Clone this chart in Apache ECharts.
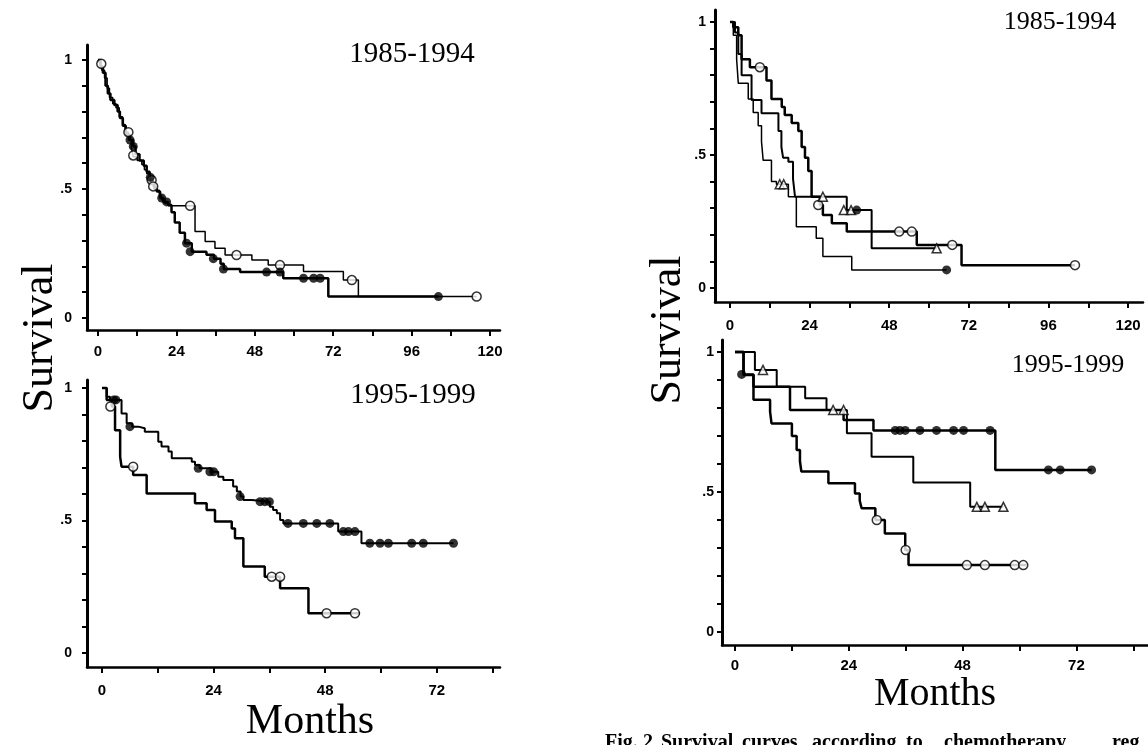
<!DOCTYPE html>
<html>
<head>
<meta charset="utf-8">
<title>Survival by period</title>
<script src="https://cdn.jsdelivr.net/npm/echarts@6/dist/echarts.min.js"></script>
<style>
  html, body { margin: 0; padding: 0; background: #fff; }
  #chart { width: 1148px; height: 745px; }
</style>
</head>
<body>
<div id="chart"></div>
<script>
// axis ticks / labels
const monthTicks120 = [0, 12, 24, 36, 48, 60, 72, 84, 96, 108, 120];
const monthLabels120 = [0, 24, 48, 72, 96, 120];
const monthTicks84 = [0, 12, 24, 36, 48, 60, 72, 84];
const monthLabels72 = [0, 24, 48, 72];
const survTicks = [0, 0.1, 0.2, 0.3, 0.4, 0.5, 0.6, 0.7, 0.8, 0.9, 1];
const survLabels = [0, 0.5, 1];

// left, 1985-1994 : [month, survival]
const aOpenSteps = [[0,1],[0.6,0.985],[1.2,0.96],[2,0.93],[2.8,0.89],[3.5,0.855],[4.5,0.83],[5.5,0.815],[6.5,0.78],[7.5,0.75],[8.3,0.72],[9.3,0.69],[10.2,0.66],[10.8,0.625],[12,0.61],[13.4,0.595],[14.2,0.575],[14.9,0.56],[16,0.535],[16.9,0.51],[17.8,0.495],[18.8,0.475],[19.5,0.457],[20.5,0.445],[21.5,0.435],[29.7,0.335],[32.8,0.296],[35.8,0.27],[38.9,0.244],[47.1,0.225],[52.1,0.205],[62.9,0.18],[75.1,0.147],[79.7,0.083],[115.9,0.083]];
const aOpenCensor = [[1,0.985],[9.3,0.72],[10.8,0.63],[16.4,0.535],[16.9,0.51],[28.2,0.435],[42.4,0.244],[55.7,0.205],[77.7,0.147],[115.9,0.083]];
const aFilledSteps = [[0,1],[0.8,0.975],[1.5,0.95],[2.3,0.9],[3,0.87],[3.8,0.845],[5,0.825],[6,0.8],[6.7,0.775],[7.6,0.745],[8.5,0.71],[9.8,0.69],[10.8,0.665],[11.5,0.635],[12.7,0.61],[14,0.59],[14.9,0.567],[15.8,0.545],[16.4,0.52],[17.3,0.5],[18,0.49],[19,0.465],[20,0.45],[21.5,0.438],[22.5,0.41],[23.5,0.37],[25,0.33],[26.6,0.29],[28.7,0.257],[33.2,0.245],[35.5,0.23],[37.5,0.21],[38.5,0.19],[43.5,0.178],[56.7,0.154],[70.5,0.083],[104.2,0.083]];
const aFilledCensor = [[9.8,0.69],[10.8,0.665],[16,0.545],[19.5,0.465],[21,0.45],[27.1,0.29],[28.2,0.257],[35.3,0.23],[38.4,0.19],[51.6,0.178],[55.7,0.178],[62.9,0.154],[66,0.154],[68,0.154],[104.2,0.083]];

// left, 1995-1999
const bFilledSteps = [[0,1],[1,0.967],[1.7,0.955],[4.2,0.904],[5.3,0.867],[6.5,0.854],[7.8,0.848],[9.2,0.835],[12.1,0.797],[12.8,0.779],[14.3,0.76],[15,0.735],[19.3,0.722],[20,0.709],[21,0.697],[23.5,0.684],[25,0.665],[26.1,0.653],[28.2,0.628],[29,0.609],[29.8,0.59],[30.4,0.577],[32.2,0.571],[36.1,0.552],[36.8,0.54],[37.6,0.527],[38.3,0.502],[39,0.489],[50.8,0.458],[55.8,0.414],[75.6,0.414]];
const bFilledCensor = [[2.5,0.955],[3,0.955],[6,0.854],[20.7,0.697],[23.2,0.684],[24,0.684],[29.7,0.59],[34,0.571],[35,0.571],[36,0.571],[40,0.489],[43.3,0.489],[46.2,0.489],[49,0.489],[51.9,0.458],[53,0.458],[54.4,0.458],[57.6,0.414],[59.8,0.414],[61.6,0.414],[66.6,0.414],[69.1,0.414],[75.6,0.414]];
const bOpenSteps = [[0,1],[1,0.955],[2.1,0.93],[2.8,0.84],[3.9,0.74],[4.2,0.703],[6.7,0.672],[9.6,0.602],[20,0.565],[22.5,0.54],[24.3,0.496],[27.9,0.47],[28.6,0.433],[30.4,0.326],[35,0.288],[38.3,0.244],[44.4,0.15],[55.5,0.15]];
const bOpenCensor = [[1.8,0.93],[6.7,0.703],[36.5,0.288],[38.3,0.288],[48.3,0.15],[54.4,0.15]];

// right, 1985-1994
const cOpenSteps = [[0,1],[1,0.98],[2.5,0.95],[3.5,0.86],[6,0.83],[11,0.78],[12.5,0.71],[15.6,0.68],[16.5,0.65],[18.6,0.62],[20.6,0.59],[21.6,0.53],[22.6,0.49],[23.6,0.44],[24.6,0.343],[27.1,0.312],[28,0.274],[30.7,0.243],[35.2,0.212],[56.3,0.162],[69.8,0.086],[104,0.086]];
const cOpenCensor = [[9,0.83],[26.6,0.312],[51,0.212],[54.8,0.212],[67,0.162],[104,0.086]];
const cTriSteps = [[0,1],[1.5,0.96],[2.5,0.88],[3.5,0.8],[6.5,0.707],[9.5,0.657],[14.6,0.59],[15.5,0.53],[16,0.49],[17.6,0.475],[19,0.41],[19.6,0.343],[35.2,0.293],[42.7,0.149],[62.3,0.149]];
const cTriCensor = [[15,0.39],[16.2,0.39],[28,0.343],[34.3,0.293],[36.5,0.293],[62.3,0.149]];
const cFilledSteps = [[0,1],[1,0.95],[2,0.86],[2.5,0.77],[5.5,0.71],[7,0.66],[8.5,0.61],[9.5,0.55],[10,0.48],[12.5,0.4],[14,0.39],[17.6,0.343],[20,0.23],[26,0.187],[28,0.118],[36.7,0.068],[65.3,0.068]];
const cFilledCensor = [[38.2,0.293],[65.3,0.068]];

// right, 1995-1999
const dFilledSteps = [[0,1],[1.8,0.92],[3.9,0.876],[11.6,0.793],[22.9,0.757],[29.2,0.72],[54.9,0.579],[75.2,0.579]];
const dFilledCensor = [[1.4,0.92],[33.8,0.72],[34.8,0.72],[35.9,0.72],[39,0.72],[42.5,0.72],[46.1,0.72],[48.2,0.72],[53.8,0.72],[66.1,0.579],[68.6,0.579],[75.2,0.579]];
const dTriSteps = [[0,1],[4.2,0.936],[8.8,0.876],[14.8,0.835],[19.3,0.793],[23.6,0.71],[28.8,0.626],[37.6,0.534],[49.6,0.447],[56.6,0.447]];
const dTriCensor = [[5.9,0.936],[20.7,0.793],[22.9,0.793],[51,0.447],[52.7,0.447],[56.6,0.447]];
const dOpenSteps = [[0,1],[1.8,0.918],[3.9,0.83],[7.4,0.787],[7.7,0.745],[12,0.7],[13,0.65],[13.7,0.61],[14,0.573],[19.7,0.531],[25.3,0.495],[26.3,0.47],[26.7,0.442],[29.6,0.4],[31.6,0.352],[35.9,0.293],[36.6,0.239],[61.5,0.239]];
const dOpenCensor = [[29.9,0.4],[36,0.293],[48.9,0.239],[52.7,0.239],[59,0.239],[60.8,0.239]];

// caption words and their left edges (it is cut by the bottom edge)
const captionWords = [['Fig.', 605], ['2', 643], ['Survival', 661], ['curves', 742], ['according', 812], ['to', 906], ['chemotherapy', 944], ['reg', 1112]];

const chart = echarts.init(document.getElementById('chart'));

const serif = 'Liberation Serif, Times New Roman, serif';
const sans = 'Liberation Sans, Arial, sans-serif';

function xAxisFor(gi, min, max, ticks, labels, margin) {
  return {
    type: 'value', gridIndex: gi, min: min, max: max,
    axisLine: { show: true, onZero: false, lineStyle: { color: '#000', width: 2.5 } },
    axisTick: { show: true, customValues: ticks, length: 6, inside: false, lineStyle: { color: '#000', width: 2 } },
    axisLabel: { customValues: labels, margin: margin, color: '#000', fontFamily: sans, fontWeight: 'bold', fontSize: 15 },
    splitLine: { show: false }
  };
}

function yAxisFor(gi, min, max, margin) {
  return {
    type: 'value', gridIndex: gi, min: min, max: max,
    axisLine: { show: true, onZero: false, lineStyle: { color: '#000', width: 3 } },
    axisTick: { show: true, customValues: survTicks, length: 5, lineStyle: { color: '#000', width: 2 } },
    axisLabel: {
      customValues: survLabels, margin: margin, color: '#000', fontFamily: sans, fontWeight: 'bold', fontSize: 14,
      formatter: function (v) { return v === 0.5 ? '.5' : String(v); }
    },
    splitLine: { show: false }
  };
}

function stepLine(data, gi, width) {
  return {
    type: 'line', step: 'end', data: data, xAxisIndex: gi, yAxisIndex: gi,
    showSymbol: false, silent: true,
    lineStyle: { color: '#000', width: width }
  };
}

function marks(data, gi, kind) {
  const open = kind !== 'filled';
  return {
    type: 'scatter', data: data, xAxisIndex: gi, yAxisIndex: gi,
    symbol: kind === 'triangle' ? 'triangle' : 'circle',
    symbolSize: 9,
    itemStyle: { color: open ? '#fff' : '#000', borderColor: '#000', borderWidth: open ? 1.5 : 0 },
    z: 5
  };
}

function label(text, x, y, size, rotate) {
  return {
    type: 'text', x: x, y: y, rotation: rotate ? Math.PI / 2 : 0,
    style: { text: text, font: size + 'px ' + serif, fill: '#000', textAlign: 'center', textVerticalAlign: 'middle' }
  };
}

const option = {
  animation: false,
  backgroundColor: '#fff',
  grid: [
    { left: 87, top: 45, width: 413, height: 285 },
    { left: 87, top: 380, width: 413, height: 287 },
    { left: 715, top: 10, width: 428, height: 292 },
    { left: 722, top: 340, width: 426, height: 305 }
  ],
  xAxis: [
    xAxisFor(0, -3.37, 123.05, monthTicks120, monthLabels120, 14),
    xAxisFor(1, -3.23, 85.6, monthTicks84, monthLabels72, 16),
    xAxisFor(2, -4.52, 124.5, monthTicks120, monthLabels120, 16),
    xAxisFor(3, -2.74, 87.1, monthTicks84, monthLabels72, 13)
  ],
  yAxis: [
    yAxisFor(0, -0.0465, 1.058, 15),
    yAxisFor(1, -0.0528, 1.03, 15),
    yAxisFor(2, -0.0526, 1.045, 9),
    yAxisFor(3, -0.0464, 1.043, 8)
  ],
  series: [
    stepLine(aOpenSteps, 0, 1.5), stepLine(aFilledSteps, 0, 2.5),
    marks(aOpenCensor, 0, 'open'), marks(aFilledCensor, 0, 'filled'),
    stepLine(bFilledSteps, 1, 2), stepLine(bOpenSteps, 1, 2.5),
    marks(bFilledCensor, 1, 'filled'), marks(bOpenCensor, 1, 'open'),
    stepLine(cOpenSteps, 2, 2.5), stepLine(cTriSteps, 2, 2), stepLine(cFilledSteps, 2, 1.5),
    marks(cOpenCensor, 2, 'open'), marks(cTriCensor, 2, 'triangle'), marks(cFilledCensor, 2, 'filled'),
    stepLine(dFilledSteps, 3, 2.5), stepLine(dTriSteps, 3, 2), stepLine(dOpenSteps, 3, 2.5),
    marks(dFilledCensor, 3, 'filled'), marks(dTriCensor, 3, 'triangle'), marks(dOpenCensor, 3, 'open')
  ],
  graphic: [
    label('1985-1994', 412, 54, 29),
    label('1995-1999', 413, 395, 29),
    label('1985-1994', 1060, 22, 26),
    label('1995-1999', 1068, 365, 26),
    label('Survival', 40, 338, 44, true),
    label('Survival', 668, 330, 44, true),
    label('Months', 310, 722, 42),
    label('Months', 935, 694, 40)
  ].concat(captionWords.map(function (w) {
    return {
      type: 'text', x: w[1], y: 733,
      style: { text: w[0], font: 'bold 20px ' + serif, fill: '#000', textAlign: 'left', textVerticalAlign: 'top' }
    };
  }))
};

chart.setOption(option);
</script>
</body>
</html>
